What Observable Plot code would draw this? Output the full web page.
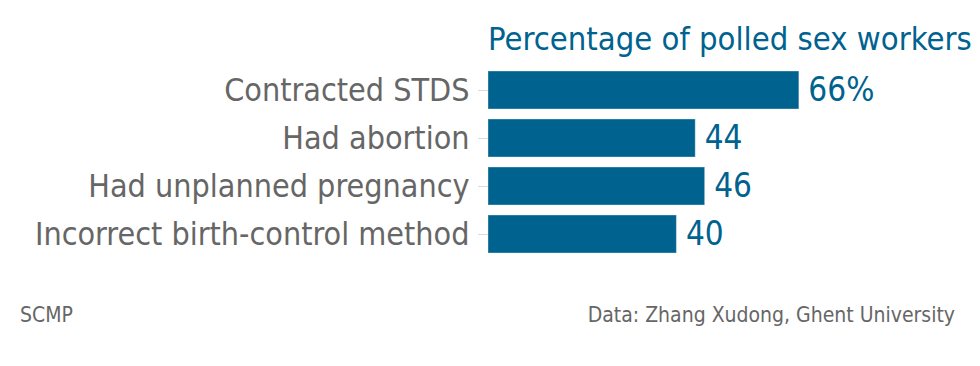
<!DOCTYPE html>
<html>
<head>
<meta charset="utf-8">
<script src="https://cdn.jsdelivr.net/npm/d3@7"></script>
<script src="https://cdn.jsdelivr.net/npm/@observablehq/plot@0.6"></script>
<style>
  html, body { margin: 0; padding: 0; background: #fff; }
  #wrap { position: relative; width: 980px; height: 366px; overflow: hidden; font-family: "DejaVu Sans Condensed", "DejaVu Sans", sans-serif; font-stretch: condensed; }
  #title { position: absolute; left: 488px; top: 20px; font-size: 32.5px; color: #00628f; white-space: nowrap; }
  #src { position: absolute; left: 20px; top: 303px; font-size: 21px; color: #666; }
  #credit { position: absolute; right: 25px; top: 303px; font-size: 21px; color: #666; }
  #chart { position: absolute; left: 0; top: 0; }
</style>
</head>
<body>
<div id="wrap">
  <div id="chart"></div>
  <div id="title">Percentage of polled sex workers</div>
  <div id="src">SCMP</div>
  <div id="credit">Data: Zhang Xudong, Ghent University</div>
</div>
<script>
const categories = ["Contracted STDS", "Had abortion", "Had unplanned pregnancy", "Incorrect birth-control method"];
const values = [66, 44, 46, 40];
const valueLabels = ["66%", "44", "46", "40"];

const data = categories.map((c, i) => ({category: c, value: values[i], label: valueLabels[i]}));
const blue = "#00628f";

const chart = Plot.plot({
  width: 980,
  height: 366,
  marginLeft: 488,
  marginRight: 21,
  marginTop: 60,
  marginBottom: 102,
  style: {fontFamily: "'DejaVu Sans Condensed', 'DejaVu Sans', sans-serif", fontStretch: "condensed", background: "#fff"},
  x: {domain: [0, 100], axis: null},
  y: {domain: categories, padding: 0.2, label: null},
  marks: [
    Plot.axisY({tickSize: 10, tickPadding: 9, stroke: "#ddd", fill: "#666", fontSize: 32, label: null}),
    Plot.barX(data, {x: "value", y: "category", fill: blue, stroke: "#ffffff", strokeOpacity: 0.35, strokeWidth: 1}),
    Plot.text(data, {x: "value", y: "category", text: "label", textAnchor: "start", dx: 9, fill: blue, fontSize: 33})
  ]
});
document.getElementById("chart").appendChild(chart);
</script>
</body>
</html>
